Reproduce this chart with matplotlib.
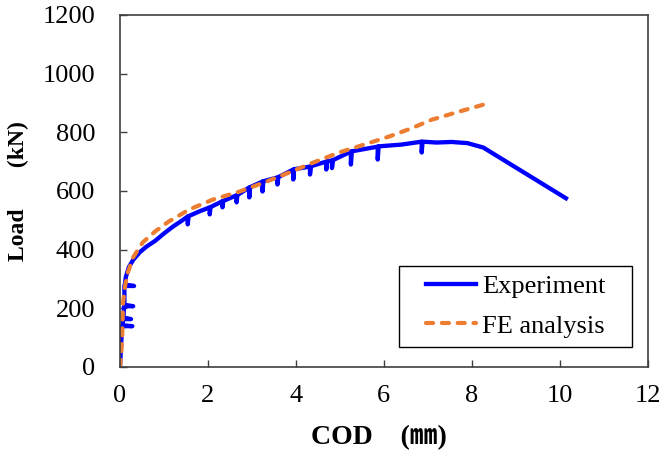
import matplotlib
matplotlib.use("Agg")
from matplotlib import pyplot as plt
from matplotlib.path import Path

# Experiment curve (COD in mm, load in kN)
exp_cod = [0, 0.02, 0.04, 0.05, 0.28, 0.06, 0.07, 0.25, 0.08, 0.09, 0.30, 0.10,
           0.10, 0.32, 0.11, 0.13, 0.20, 0.30, 0.45, 0.60, 0.80, 1.00, 1.20, 1.40,
           1.54, 1.54, 1.56, 1.80, 2.04, 2.04, 2.06, 2.33, 2.33, 2.35, 2.65, 2.65,
           2.67, 2.94, 2.94, 2.96, 3.24, 3.24, 3.26, 3.58, 3.58, 3.60, 3.94, 3.94,
           3.96, 4.32, 4.32, 4.34, 4.69, 4.69, 4.71, 4.82, 4.82, 4.84, 5.25, 5.25,
           5.27, 5.86, 5.86, 5.88, 6.40, 6.86, 6.86, 6.88, 7.20, 7.54, 7.90, 8.26,
           10.14]
exp_load = [0, 60, 120, 139, 139, 142, 163, 163, 168, 207, 207, 212,
            276, 276, 280, 305, 340, 365, 391, 410, 430, 455, 478, 498,
            513, 486, 514, 530, 544, 520, 545, 565, 544, 566, 585, 561,
            586, 612, 578, 613, 632, 598, 633, 646, 622, 647, 673, 639,
            674, 683, 656, 684, 700, 673, 701, 704, 678, 705, 734, 690,
            735, 751, 707, 752, 758, 768, 731, 768, 765, 767, 763, 748,
            575]

# FE analysis curve
fe_cod = [0, 0.03, 0.05, 0.07, 0.12, 0.18, 0.30, 0.52, 0.80, 1.10, 1.58, 2.10,
          2.72, 3.30, 3.85, 4.40, 4.98, 5.55, 6.11, 6.60, 7.09, 7.70, 8.33]
fe_load = [0, 50, 105, 221, 280, 323, 374, 425, 462, 495, 537, 570,
           598, 630, 663, 697, 731, 758, 785, 812, 843, 870, 897]

x_ticks = [0, 2, 4, 6, 8, 10, 12]
y_ticks = [0, 200, 400, 600, 800, 1000, 1200]

plt.rcParams['font.family'] = ['Liberation Serif', 'Noto Sans CJK JP']
plt.rcParams['font.size'] = 19


def wide_box(x0, y0, width, height, mutation_size):
    # legend frame: wide side padding, tight top/bottom
    px = 0.65 * mutation_size
    verts = [(x0 - px, y0), (x0 + width + px, y0), (x0 + width + px, y0 + height),
             (x0 - px, y0 + height), (x0 - px, y0)]
    return Path(verts, closed=True)


fig = plt.figure(figsize=(6.63, 4.53), dpi=100)
ax = fig.add_axes([0.181, 0.190, 0.796, 0.777])

ax.plot(exp_cod, exp_load, color='#0000FF', lw=3.1, label='Experiment',
        solid_joinstyle='round')
ax.plot(fe_cod, fe_load, color='#ED7D31', lw=3.0, dashes=(1.7, 2.1),
        dash_capstyle='round', label='FE analysis')

ax.set_xlim(0, 12)
ax.set_ylim(0, 1200)
ax.set_xticks(x_ticks)
ax.set_yticks(y_ticks)
ax.tick_params(direction='in', length=5, width=1, colors='#404040',
               labelcolor='black')
ax.tick_params(axis='x', pad=13)
ax.tick_params(axis='y', pad=18)
for s in ax.spines.values():
    s.set_color('#404040')
    s.set_linewidth(1.2)

ax.set_xlabel('COD\u3000(\u339c)', fontweight='bold', fontsize=20)
ax.xaxis.set_label_coords(0.49, -0.166)
ax.set_ylabel('Load\u3000   (kN)', fontweight='bold', fontsize=17)
ax.yaxis.set_label_coords(-0.172, 0.5)

leg = ax.legend(loc='lower right', bbox_to_anchor=(0.938, 0.057),
                borderaxespad=0, fancybox=False, edgecolor='black',
                framealpha=1, handlelength=1.9, handletextpad=0.25,
                borderpad=0.35, labelspacing=0.6)
leg.get_frame().set_boxstyle(wide_box)
leg.get_frame().set_linewidth(1.0)

fig.savefig('out.png', dpi=100)
